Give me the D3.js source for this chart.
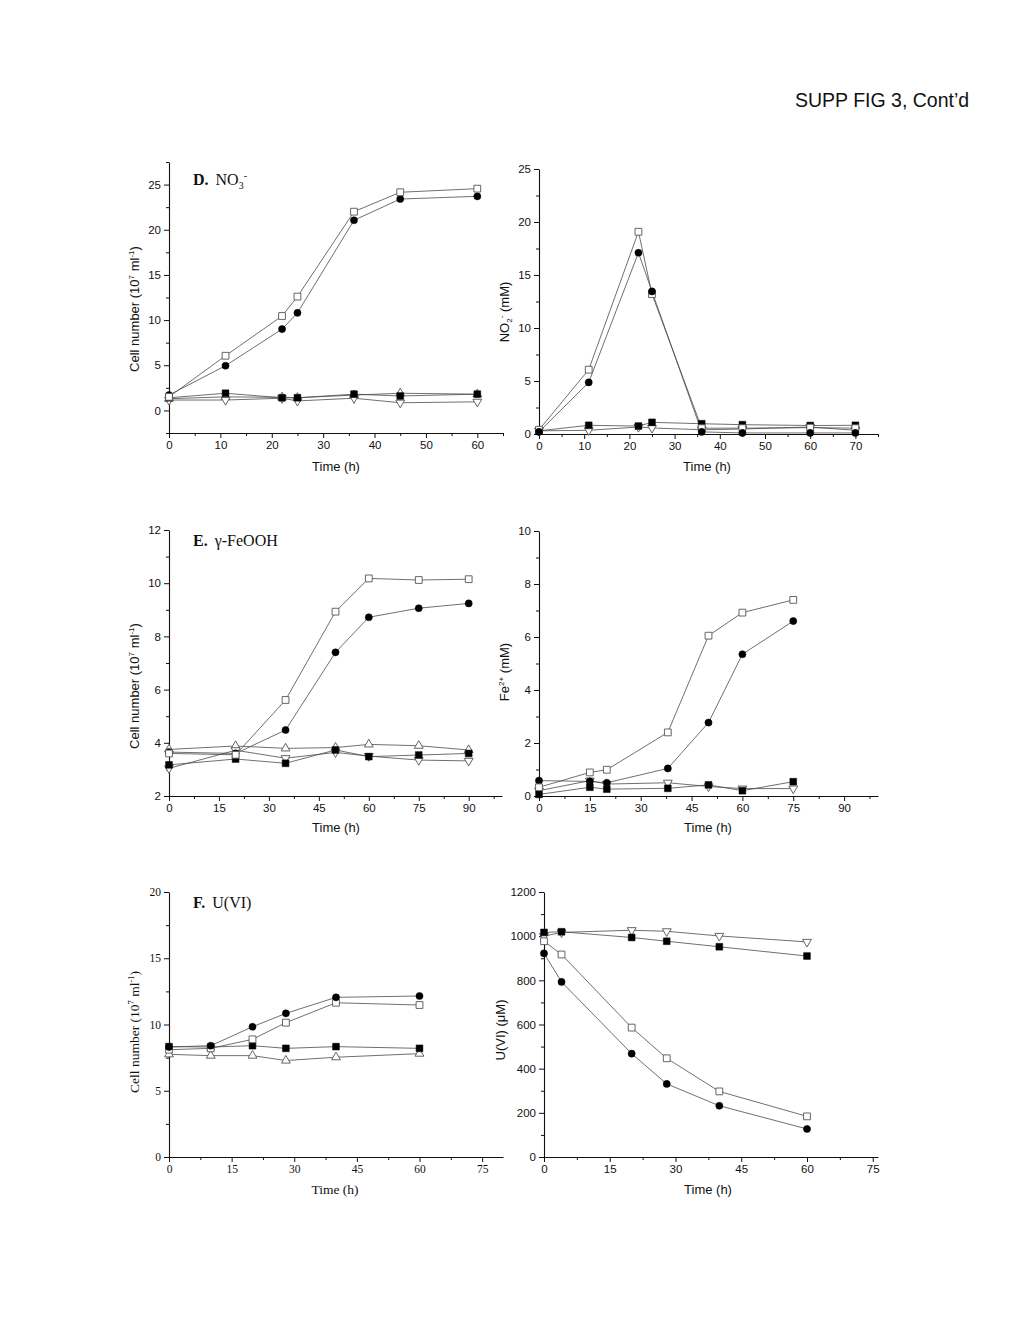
<!DOCTYPE html>
<html><head><meta charset="utf-8">
<script src="https://cdn.jsdelivr.net/npm/d3@7"></script>
<style>body{margin:0;background:#fff}svg{display:block}</style>
</head><body><svg id="c" width="1024" height="1325"></svg>
<script>
// ---------- Data ----------
// Panel D (NO3-) : cell number
const dCellTime = [0, 11, 22, 25, 36, 45, 60];
const dCellOpenSq = [1.5, 6.05, 10.45, 12.6, 22.0, 24.15, 24.55];
const dCellCircle = [1.7, 4.95, 9.0, 10.8, 21.05, 23.4, 23.7];
const dCellFilledSq = [1.4, 1.9, 1.4, 1.4, 1.8, 1.6, 1.8];
const dCellUpTri = [1.3, 1.5, 1.45, 1.4, 1.7, 1.9, 1.8];
const dCellDownTri = [1.15, 1.15, 1.35, 1.05, 1.35, 0.85, 0.95];
// Panel D : NO2-
const dNo2Time = [0, 11, 22, 25, 36, 45, 60, 70];
const dNo2OpenSq = [0.4, 6.07, 19.08, 13.2, 0.55, 0.55, 0.6, 0.55];
const dNo2Circle = [0.2, 4.87, 17.1, 13.45, 0.2, 0.1, 0.1, 0.1];
const dNo2FilledSq = [0.3, 0.82, 0.75, 1.1, 0.97, 0.88, 0.8, 0.82];
const dNo2DownTri = [0.3, 0.35, 0.66, 0.57, 0.4, 0.47, 0.66, 0.35];
// Panel E (gamma-FeOOH) : cell number
const eCellTime = [0, 20, 35, 50, 60, 75, 90];
const eCellOpenSq = [3.6, 3.55, 5.61, 8.93, 10.18, 10.12, 10.15];
const eCellCircle = [3.65, 3.6, 4.48, 7.4, 8.72, 9.06, 9.24];
const eCellUpTri = [3.75, 3.88, 3.79, 3.82, 3.94, 3.89, 3.73];
const eCellFilledSq = [3.17, 3.39, 3.23, 3.73, 3.48, 3.54, 3.6];
const eCellDownTri = [3.04, 3.72, 3.42, 3.64, 3.5, 3.35, 3.32];
// Panel E : Fe2+
const eFeTime = [0, 15, 20, 38, 50, 60, 75];
const eFeOpenSq = [0.33, 0.89, 0.99, 2.4, 6.05, 6.92, 7.4];
const eFeCircle = [0.58, 0.55, 0.5, 1.04, 2.77, 5.35, 6.6];
const eFeDownTri = [0.2, 0.58, 0.45, 0.5, 0.36, 0.28, 0.28];
const eFeFilledSq = [0.06, 0.33, 0.26, 0.29, 0.42, 0.2, 0.54];
// Panel F (U(VI)) : cell number
const fCellTime = [0, 10, 20, 28, 40, 60];
const fCellCircle = [8.3, 8.4, 9.83, 10.84, 12.05, 12.15];
const fCellOpenSq = [8.1, 8.2, 8.88, 10.14, 11.64, 11.47];
const fCellFilledSq = [8.33, 8.3, 8.4, 8.2, 8.33, 8.2];
const fCellUpTri = [7.75, 7.65, 7.65, 7.28, 7.53, 7.8];
// Panel F : U(VI)
const fUTime = [0, 4, 20, 28, 40, 60];
const fUDownTri = [1000, 1017, 1027, 1022, 1001, 974];
const fUFilledSq = [1017, 1020, 994, 977, 952, 910];
const fUOpenSq = [977, 917, 586, 447, 297, 184];
const fUCircle = [922, 793, 468, 331, 232, 127];

// Tick values
const dCellXTicks = [0, 10, 20, 30, 40, 50, 60];
const dCellYTicks = [0, 5, 10, 15, 20, 25];
const dNo2XTicks = [0, 10, 20, 30, 40, 50, 60, 70];
const dNo2YTicks = [0, 5, 10, 15, 20, 25];
const eXTicks = [0, 15, 30, 45, 60, 75, 90];
const eCellYTicks = [2, 4, 6, 8, 10, 12];
const eFeYTicks = [0, 2, 4, 6, 8, 10];
const fXTicks = [0, 15, 30, 45, 60, 75];
const fCellYTicks = [0, 5, 10, 15, 20];
const fUYTicks = [0, 200, 400, 600, 800, 1000, 1200];

// ---------- Drawing ----------
const svg = d3.select("#c");
const LINE = "#4a4a4a";

svg.append("text").attr("x", 795).attr("y", 107)
  .attr("font-family", "Liberation Sans, Arial, sans-serif").attr("font-size", 19.5)
  .attr("fill", "#111").text("SUPP FIG 3, Cont\u2019d");

function symPath(type) {
  if (type === "osq" || type === "fsq") return d3.symbol(d3.symbolSquare, 46)();
  if (type === "circ") return d3.symbol(d3.symbolCircle, 40)();
  return d3.symbol(d3.symbolTriangle, 34)();
}

function addLabel(g, parts, attrs, fam, size) {
  const t = g.append("text").attr("font-family", fam).attr("font-size", size).attr("fill", "#111");
  for (const k in attrs) t.attr(k, attrs[k]);
  let shift = 0;
  parts.forEach(p => {
    const ts = t.append("tspan").text(p.t);
    let target = 0;
    if (p.sup) { target = -size * 0.38; ts.attr("font-size", size * 0.62); }
    if (p.sub) { target = size * 0.25; ts.attr("font-size", size * 0.62); }
    if (p.bold) ts.attr("font-weight", "bold");
    if (p.dx) ts.attr("dx", p.dx);
    if (target - shift !== 0) ts.attr("dy", target - shift);
    shift = target;
  });
  return t;
}

function panel(cfg) {
  const x = d3.scaleLinear().domain(cfg.xd).range(cfg.xr);
  const y = d3.scaleLinear().domain(cfg.yd).range(cfg.yr);
  const g = svg.append("g");
  const fam = cfg.fam;
  const fs = cfg.tickFont;
  const xstep = cfg.xt[1] - cfg.xt[0];
  const xMinor = [];
  for (let v = cfg.xt[0] + xstep / 2; v <= cfg.xd[1] + 1e-9; v += xstep) xMinor.push(v);
  const ystep = cfg.yt[1] - cfg.yt[0];
  const yMinor = [];
  for (let v = cfg.yt[0] - ystep / 2; v <= cfg.yd[1] + 1e-9; v += ystep) {
    if (v >= cfg.yd[0] - 1e-9) yMinor.push(v);
  }
  const fmt = d3.format("d");
  g.append("g").attr("transform", `translate(0,${cfg.yr[0]})`)
    .call(d3.axisBottom(x).tickValues(cfg.xt).tickFormat(fmt).tickSizeInner(5).tickSizeOuter(0).tickPadding(3));
  g.append("g").attr("transform", `translate(0,${cfg.yr[0]})`)
    .call(d3.axisBottom(x).tickValues(xMinor).tickSizeInner(3).tickSizeOuter(0).tickFormat(""))
    .select(".domain").remove();
  g.append("g").attr("transform", `translate(${cfg.xr[0]},0)`)
    .call(d3.axisLeft(y).tickValues(cfg.yt).tickFormat(fmt).tickSizeInner(5).tickSizeOuter(0).tickPadding(3));
  g.append("g").attr("transform", `translate(${cfg.xr[0]},0)`)
    .call(d3.axisLeft(y).tickValues(yMinor).tickSizeInner(3).tickSizeOuter(0).tickFormat(""))
    .select(".domain").remove();
  g.selectAll(".domain").attr("stroke", "#111").attr("stroke-width", 1.1);
  g.selectAll(".tick line").attr("stroke", "#111").attr("stroke-width", 1);
  g.selectAll(".tick text").attr("font-family", fam).attr("font-size", fs).attr("fill", "#111");

  cfg.series.forEach(s => {
    const pts = cfg.time.map((t, i) => [t, s.v[i]]);
    g.append("path").datum(pts)
      .attr("d", d3.line().x(d => x(d[0])).y(d => y(d[1])))
      .attr("fill", "none").attr("stroke", LINE).attr("stroke-width", 0.8);
  });
  cfg.series.forEach(s => {
    const pts = cfg.time.map((t, i) => [t, s.v[i]]);
    const filled = s.type === "fsq" || s.type === "circ";
    g.selectAll(null).data(pts).enter().append("path")
      .attr("d", symPath(s.type))
      .attr("transform", d => `translate(${x(d[0])},${y(d[1])})` + (s.type === "dtri" ? " rotate(180)" : ""))
      .attr("fill", filled ? "#000" : "#fff")
      .attr("stroke", filled ? "#000" : "#555")
      .attr("stroke-width", filled ? 0.5 : 0.9);
  });

  addLabel(g, [{t: "Time (h)"}], {x: cfg.xlab[0], y: cfg.xlab[1], "text-anchor": "middle"}, fam, cfg.labFont);
  addLabel(g, cfg.ylabParts, {transform: `translate(${cfg.ylab[0]},${cfg.ylab[1]}) rotate(-90)`, "text-anchor": "middle"}, fam, cfg.labFont);
  if (cfg.title) {
    addLabel(g, cfg.title, {x: 193, y: cfg.titleY}, "Liberation Serif, Times New Roman, serif", 16);
  }
}

const SANS = "Liberation Sans, Arial, sans-serif";
const SERIF = "Liberation Serif, Times New Roman, serif";
const cellLab = [{t: "Cell number (10"}, {t: "7", sup: true}, {t: " ml"}, {t: "-1", sup: true}, {t: ")"}];

panel({xd: [0, 65], xr: [169, 503], yd: [-2.5, 27.5], yr: [433, 162], xt: dCellXTicks, yt: dCellYTicks,
  time: dCellTime, fam: SANS, tickFont: 11.5, labFont: 13,
  series: [{v: dCellUpTri, type: "utri"}, {v: dCellDownTri, type: "dtri"}, {v: dCellFilledSq, type: "fsq"},
           {v: dCellCircle, type: "circ"}, {v: dCellOpenSq, type: "osq"}],
  xlab: [336, 471], ylab: [139, 309], ylabParts: cellLab,
  title: [{t: "D.", bold: true}, {t: "NO", dx: 7}, {t: "3", sub: true}, {t: "-", sup: true}], titleY: 185});

panel({xd: [0, 75], xr: [539, 878], yd: [0, 25], yr: [434, 169], xt: dNo2XTicks, yt: dNo2YTicks,
  time: dNo2Time, fam: SANS, tickFont: 11.5, labFont: 13,
  series: [{v: dNo2DownTri, type: "dtri"}, {v: dNo2FilledSq, type: "fsq"}, {v: dNo2OpenSq, type: "osq"},
           {v: dNo2Circle, type: "circ"}],
  xlab: [707, 471], ylab: [509, 312], ylabParts: [{t: "NO"}, {t: "2", sub: true}, {t: "-", sup: true}, {t: " (mM)"}]});

panel({xd: [0, 100], xr: [169, 502], yd: [2, 12], yr: [796, 530], xt: eXTicks, yt: eCellYTicks,
  time: eCellTime, fam: SANS, tickFont: 11.5, labFont: 13,
  series: [{v: eCellUpTri, type: "utri"}, {v: eCellDownTri, type: "dtri"}, {v: eCellFilledSq, type: "fsq"},
           {v: eCellCircle, type: "circ"}, {v: eCellOpenSq, type: "osq"}],
  xlab: [336, 832], ylab: [139, 686], ylabParts: cellLab,
  title: [{t: "E.", bold: true}, {t: "\u03b3-FeOOH", dx: 7}], titleY: 546});

panel({xd: [0, 100], xr: [539, 878], yd: [0, 10], yr: [796, 531], xt: eXTicks, yt: eFeYTicks,
  time: eFeTime, fam: SANS, tickFont: 11.5, labFont: 13,
  series: [{v: eFeDownTri, type: "dtri"}, {v: eFeFilledSq, type: "fsq"}, {v: eFeCircle, type: "circ"},
           {v: eFeOpenSq, type: "osq"}],
  xlab: [708, 832], ylab: [509, 672], ylabParts: [{t: "Fe"}, {t: "2+", sup: true}, {t: " (mM)"}]});

panel({xd: [0, 80], xr: [169, 503], yd: [0, 20], yr: [1157, 892], xt: fXTicks, yt: fCellYTicks,
  time: fCellTime, fam: SERIF, tickFont: 11.5, labFont: 13.5,
  series: [{v: fCellUpTri, type: "utri"}, {v: fCellFilledSq, type: "fsq"}, {v: fCellOpenSq, type: "osq"},
           {v: fCellCircle, type: "circ"}],
  xlab: [335, 1194], ylab: [139, 1032], ylabParts: cellLab,
  title: [{t: "F.", bold: true}, {t: "U(VI)", dx: 7}], titleY: 908});

panel({xd: [0, 76.2], xr: [544, 878], yd: [0, 1200], yr: [1157, 892], xt: fXTicks, yt: fUYTicks,
  time: fUTime, fam: SANS, tickFont: 11.5, labFont: 13,
  series: [{v: fUDownTri, type: "dtri"}, {v: fUFilledSq, type: "fsq"}, {v: fUOpenSq, type: "osq"},
           {v: fUCircle, type: "circ"}],
  xlab: [708, 1194], ylab: [505, 1030], ylabParts: [{t: "U(VI) (\u03bcM)"}]});
</script></body></html>
